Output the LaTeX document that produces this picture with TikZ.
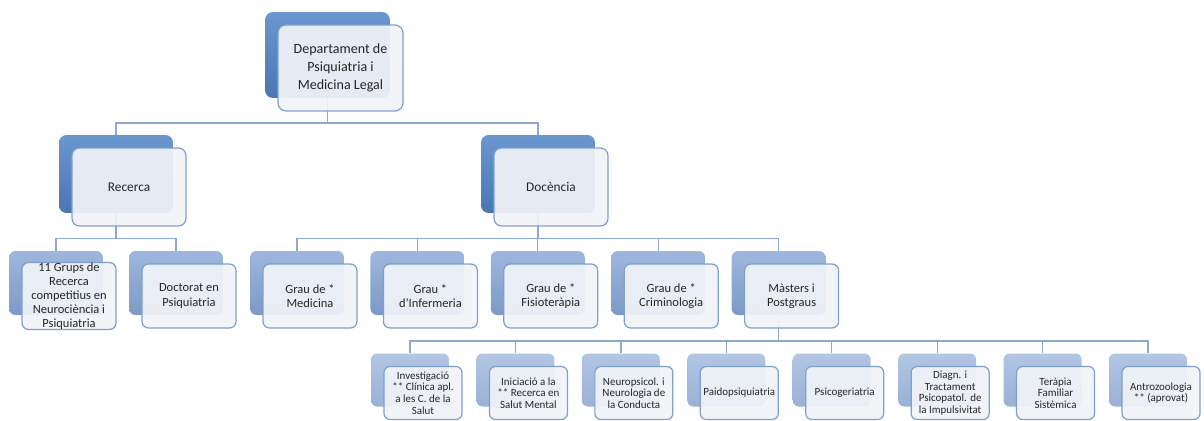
\documentclass[tikz,border=0pt]{standalone}
\usepackage{fontspec}
\setmainfont{Carlito}
\usetikzlibrary{calc,backgrounds}

\definecolor{lineblue}{HTML}{8EA8D5}
\definecolor{frameblue}{HTML}{7F9FD1}
\definecolor{paneblue}{HTML}{F1F3F8}
\definecolor{darktop}{HTML}{6A97D0}
\definecolor{darkbot}{HTML}{4A76B1}
\definecolor{midtop}{HTML}{9EB7DC}
\definecolor{midbot}{HTML}{7C9AC7}
\definecolor{paletop}{HTML}{B2C6E4}
\definecolor{palebot}{HTML}{99B1D6}
\definecolor{inkgray}{HTML}{262626}

% one unit = a back card plus the front card that carries the text
\newcommand{\orgunit}[5]{%
  \node[back, #3, #4] (b#1) at (#2) {};
  \node[front, #3] (f#1) at ($(b#1)+(13,13)$) {#5};
}

\begin{document}
\begin{tikzpicture}[x=0.02cm, y=-0.02cm,
  back/.style={inner sep=0pt},
  front/.style={inner sep=0pt, align=center, text=inkgray, draw=frameblue,
    line width=0.7pt, fill=paneblue, fill opacity=0.93, text opacity=1},
  deep/.style={top color=darktop, bottom color=darkbot},
  soft/.style={top color=midtop, bottom color=midbot},
  pale/.style={top color=paletop, bottom color=palebot},
  L0/.style={minimum width=2.5cm, minimum height=1.72cm, rounded corners=0.16cm,
    font=\fontsize{8}{10.4}\selectfont},
  L1/.style={minimum width=2.28cm, minimum height=1.56cm, rounded corners=0.15cm,
    font=\fontsize{7.6}{9.5}\selectfont},
  L2/.style={minimum width=1.88cm, minimum height=1.28cm, rounded corners=0.13cm,
    font=\fontsize{7.1}{8}\selectfont},
  L3/.style={minimum width=1.56cm, minimum height=1.06cm, rounded corners=0.12cm,
    font=\fontsize{6.25}{6.65}\selectfont},
  link/.style={draw=lineblue, line width=0.75pt}]

\useasboundingbox (0,0) rectangle (1204,420);

% Top of the tree
\orgunit{root}{327.5,55}{L0}{deep}{Departament de\\Psiquiatria i\\Medicina Legal}

% Recerca and Docencia
\orgunit{rec}{116,174}{L1}{deep}{Recerca}
\orgunit{doc}{538,174}{L1}{deep}{Docència}

% Recerca branch
\orgunit{grups}{56,283}{L2}{soft}{\fontsize{7.1}{6.6}\selectfont 11 Grups de\\Recerca\\competitius en\\Neurociència i\\Psiquiatria}
\orgunit{doct}{176,283}{L2}{soft}{Doctorat en\\Psiquiatria}

% Docencia branch
\foreach \k/\t in {1/{Grau de *\\Medicina}, 2/{Grau *\\d'Infermeria},
    3/{Grau de *\\Fisioteràpia}, 4/{Grau de *\\Criminologia},
    5/{Màsters i\\Postgraus}} {
  \orgunit{g\k}{{297+120.4*(\k-1)},283}{L2}{soft}{\t}
}

% Masters and postgraus
\foreach \k/\t in {0/{Investigació\\** Clínica apl.\\a les C. de la\\Salut},
    1/{Iniciació a la\\** Recerca en\\Salut Mental},
    2/{Neuropsicol. i\\Neurologia de\\la Conducta},
    3/{Paidopsiquiatria}, 4/{Psicogeriatria},
    5/{Diagn. i\\Tractament\\Psicopatol. de\\la Impulsivitat},
    6/{Teràpia\\Familiar\\Sistèmica},
    7/{Antrozoologia\\** (aprovat)}} {
  \orgunit{m\k}{{410+105.43*\k},380}{L3}{pale}{\t}
}

% Connectors behind the cards
\begin{scope}[on background layer]
  \foreach \c in {rec,doc}
    \draw[link] (broot.center) |- ($(froot.south)!.5!(b\c.north)$) -| (b\c.north);
  \foreach \c in {grups,doct}
    \draw[link] (brec.center) |- ($(frec.south)!.5!(b\c.north)$) -| (b\c.north);
  \foreach \c in {g1,g2,g3,g4,g5}
    \draw[link] (bdoc.center) |- ($(fdoc.south)!.5!(b\c.north)$) -| (b\c.north);
  \foreach \c in {m0,m1,m2,m3,m4,m5,m6,m7}
    \draw[link] (bg5.center) |- ($(fg5.south)!.5!(b\c.north)$) -| (b\c.north);
\end{scope}

\end{tikzpicture}
\end{document}
